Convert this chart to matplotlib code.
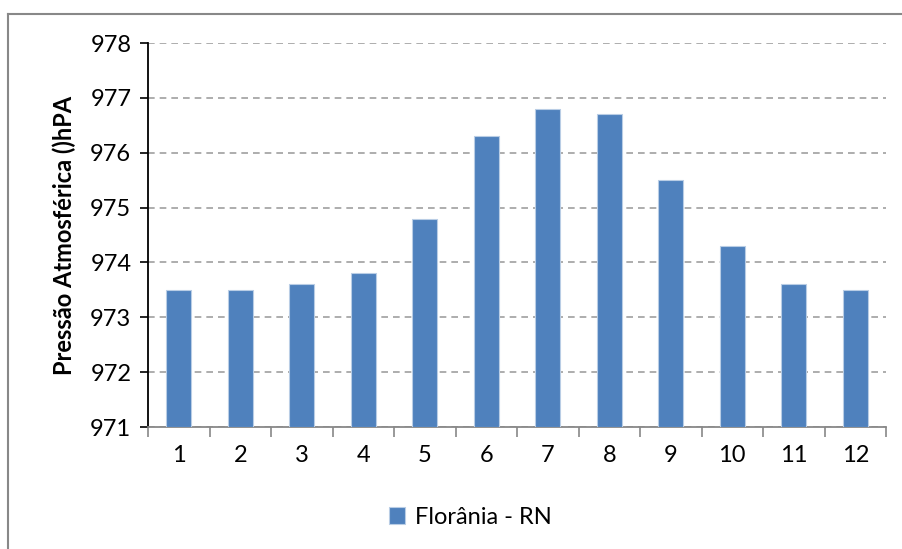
import matplotlib.pyplot as plt
from matplotlib.lines import Line2D

plt.rcParams['font.family'] = ['Lato', 'DejaVu Sans']

months = ['1', '2', '3', '4', '5', '6', '7', '8', '9', '10', '11', '12']
pressure = [973.5, 973.5, 973.6, 973.8, 974.8, 976.3, 976.8, 976.7, 975.5, 974.3, 973.6, 973.5]
yticks = [971, 972, 973, 974, 975, 976, 977, 978]

fig = plt.figure(figsize=(9.03, 5.49), dpi=100)
ax = fig.add_axes([148 / 903, 1 - 427 / 549, (886 - 148) / 903, (427 - 43) / 549])

x = range(len(months))
ax.bar(x, [p - 971 for p in pressure], bottom=971, width=0.41,
       color='#4f81bd', edgecolor='#b9cde5', linewidth=0.8,
       label='Florânia - RN', zorder=3)

ax.set_ylim(971, 978)
ax.set_xlim(-0.5, len(months) - 0.5)
ax.set_yticks(yticks)
ax.set_yticklabels([str(t) for t in yticks], fontsize=17)
ax.yaxis.grid(True, linestyle=(0, (4, 3)), color='#a0a0a0', linewidth=1.2)
ax.set_axisbelow(True)

# month labels centred on bars, tick marks at the category boundaries
ax.set_xticks(list(x))
ax.set_xticklabels(months, fontsize=17)
ax.tick_params(axis='x', length=0, pad=13)
ax.set_xticks([i - 0.5 for i in range(len(months) + 1)], minor=True)
ax.tick_params(axis='x', which='minor', length=7, color='#888888', width=1.2)
ax.tick_params(axis='y', length=6, width=1.2, pad=6)

for side in ['top', 'right']:
    ax.spines[side].set_visible(False)
ax.spines['left'].set_linewidth(1.3)
ax.spines['bottom'].set_color('#888888')
ax.spines['bottom'].set_linewidth(1.3)

ax.set_ylabel('Pressão Atmosférica ()hPA', fontsize=17, fontweight='bold', labelpad=10)

fig.legend(loc='center', bbox_to_anchor=(470 / 903, 1 - 517 / 549), frameon=False,
           fontsize=17, handlelength=0.7, handleheight=0.7, handletextpad=0.4)

# chart area frame
fig.add_artist(Line2D([8 / 903, 1], [1 - 14 / 549, 1 - 14 / 549], color='#888888', linewidth=1.5))
fig.add_artist(Line2D([8 / 903, 8 / 903], [0, 1 - 14 / 549], color='#888888', linewidth=1.5))

fig.savefig('out.png', dpi=100)
